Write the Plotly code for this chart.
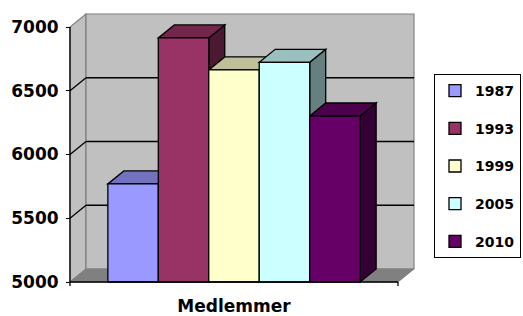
import plotly.graph_objects as go

# ---- data ----
years = ["1987", "1993", "1999", "2005", "2010"]
members = [5769, 6914, 6663, 6723, 6302]
category = ["Medlemmer"]
y_tick_values = [5000, 5500, 6000, 6500, 7000]
y_tick_labels = ["5000", "5500", "6000", "6500", "7000"]

# ---- style ----
front_colors = ["#9999FF", "#993366", "#FFFFCC", "#CCFFFF", "#660066"]
WALL = "#C0C0C0"
FLOOR = "#808080"
EDGE = "#808080"
FONT = "DejaVu Sans"

BASE, TOP = 5000, 7000
GAP, BAR_W = 0.75, 1.0
DX, DY = 0.317, 102          # depth offset (x units, value units)
n = len(years)
FLOOR_W = 2 * GAP + n * BAR_W
CENTER = FLOOR_W / 2


def shade(hexcol, f):
    h = hexcol.lstrip("#")
    r, g, b = (int(h[i:i + 2], 16) for i in (0, 2, 4))
    return "#%02X%02X%02X" % (int(r * f), int(g * f), int(b * f))


def poly(points):
    return "M " + " L ".join(f"{x},{y}" for x, y in points) + " Z"


shapes = []
# left side wall
shapes.append(dict(type="path", layer="below", xref="x", yref="y",
                   path=poly([(0, BASE), (0, TOP), (DX, TOP + DY), (DX, BASE + DY)]),
                   fillcolor=WALL, line=dict(color=EDGE, width=1.2)))
# back wall
shapes.append(dict(type="rect", layer="below", xref="x", yref="y",
                   x0=DX, x1=FLOOR_W + DX, y0=BASE + DY, y1=TOP + DY,
                   fillcolor=WALL, line=dict(color=EDGE, width=1.2)))
# floor
shapes.append(dict(type="path", layer="below", xref="x", yref="y",
                   path=poly([(0, BASE), (FLOOR_W, BASE), (FLOOR_W + DX, BASE + DY), (DX, BASE + DY)]),
                   fillcolor=FLOOR, line=dict(color=EDGE, width=1)))
# gridlines
for v in y_tick_values[1:-1]:
    shapes.append(dict(type="line", layer="below", xref="x", yref="y",
                       x0=DX, x1=FLOOR_W + DX, y0=v + DY, y1=v + DY,
                       line=dict(color="black", width=1.3)))
    shapes.append(dict(type="line", layer="below", xref="x", yref="y",
                       x0=0, x1=DX, y0=v, y1=v + DY,
                       line=dict(color="black", width=1.3)))
# bar top and side faces
for i, (v, c) in enumerate(zip(members, front_colors)):
    x0 = GAP + i * BAR_W
    x1 = x0 + BAR_W
    shapes.append(dict(type="path", layer="below", xref="x", yref="y",
                       path=poly([(x1, BASE), (x1, v), (x1 + DX, v + DY), (x1 + DX, BASE + DY)]),
                       fillcolor=shade(c, 0.5), line=dict(color="black", width=1.3)))
    shapes.append(dict(type="path", layer="below", xref="x", yref="y",
                       path=poly([(x0, v), (x1, v), (x1 + DX, v + DY), (x0 + DX, v + DY)]),
                       fillcolor=shade(c, 0.75), line=dict(color="black", width=1.3)))
# front axis lines and end ticks
shapes.append(dict(type="line", layer="above", xref="x", yref="y",
                   x0=0, x1=0, y0=BASE, y1=TOP, line=dict(color="black", width=1.3)))
shapes.append(dict(type="line", layer="above", xref="x", yref="y",
                   x0=0, x1=FLOOR_W, y0=BASE, y1=BASE, line=dict(color="black", width=1.3)))
for xe in (0, FLOOR_W):
    shapes.append(dict(type="line", layer="above", xref="x", yref="y",
                       x0=xe, x1=xe, y0=BASE, y1=BASE - 32, line=dict(color="black", width=1.3)))

fig = go.Figure()
for i, (yr, v, c) in enumerate(zip(years, members, front_colors)):
    fig.add_trace(go.Bar(
        x=[GAP + i * BAR_W + BAR_W / 2], y=[v - BASE], base=BASE, width=BAR_W,
        name=yr, legendgroup=yr,
        marker=dict(color=c, line=dict(color="black", width=1.3)),
    ))

# pixel geometry of plot area
L, R, T, B = 62, 424, 6, 292
PX_X = 50.46
PX_V = 0.1275
x_range = [(L - 70) / PX_X, (R - 70) / PX_X]
y_range = [BASE - (B - 282) / PX_V, BASE + (282 - T) / PX_V]

fig.update_layout(
    width=523, height=316,
    margin=dict(l=L, r=523 - R, t=T, b=316 - B, autoexpand=False),
    paper_bgcolor="white", plot_bgcolor="rgba(0,0,0,0)",
    barmode="overlay",
    shapes=shapes,
    font=dict(family=FONT, weight="bold", color="black", size=17),
    xaxis=dict(range=x_range, showgrid=False, zeroline=False, showline=False,
               automargin=False,
               tickvals=[CENTER], ticktext=category, ticks="",
               tickfont=dict(family=FONT, weight="bold", size=17), ticklabelstandoff=2),
    yaxis=dict(range=y_range, showgrid=False, zeroline=False, showline=False,
               automargin=False,
               anchor="free", position=(70 - L) / (R - L),
               tickvals=y_tick_values, ticktext=y_tick_labels,
               ticks="outside", ticklen=4, tickwidth=1.3, tickcolor="black",
               tickfont=dict(family=FONT, weight="bold", size=17), ticklabelstandoff=4),
    legend=dict(x=(434 - L) / (R - L), y=(B - 74) / (B - T), xanchor="left", yanchor="top",
                bordercolor="black", borderwidth=1, bgcolor="white",
                font=dict(family=FONT, weight="bold", size=14),
                tracegroupgap=16.5, traceorder="grouped"),
    showlegend=True,
)

fig.write_html("out.html", config={"displayModeBar": False},
               post_script="document.body.style.margin='0';document.body.style.padding='0';")
